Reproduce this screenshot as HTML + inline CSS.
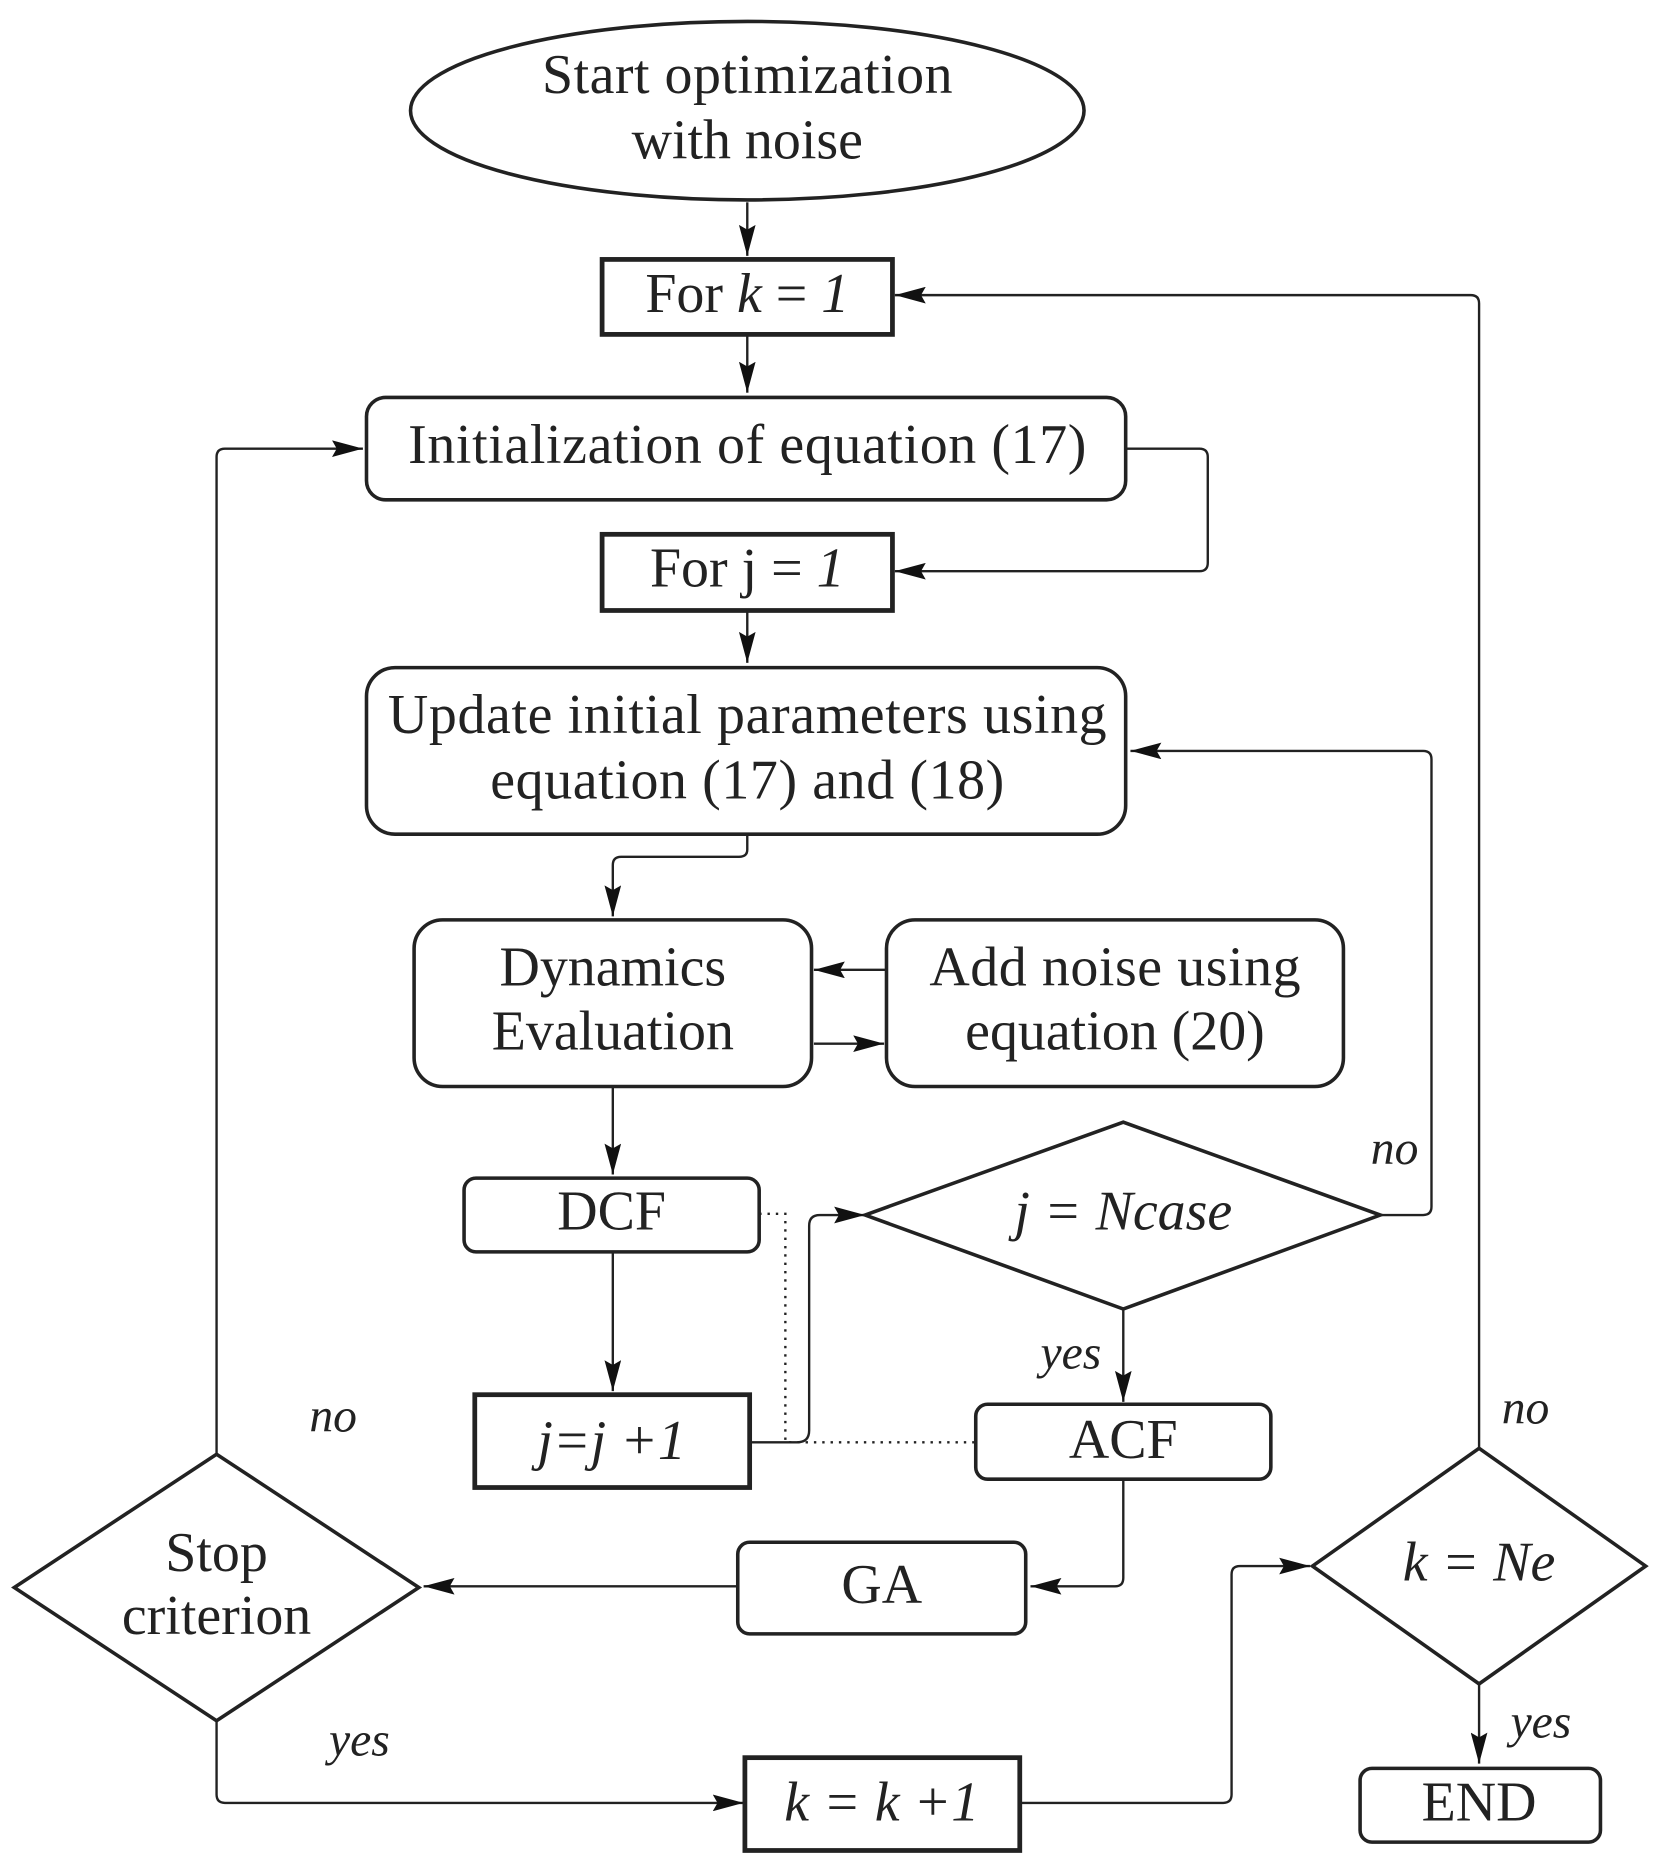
<!DOCTYPE html>
<html><head><meta charset="utf-8"><style>html,body{margin:0;padding:0;background:#fff}svg{display:block}</style></head>
<body>
<svg width="1654" height="1860" viewBox="0 0 1390 1563" preserveAspectRatio="none" xmlns="http://www.w3.org/2000/svg" font-family="Liberation Serif, serif" fill="none">
<defs>
<marker id="b" viewBox="0 0 26 14" markerWidth="26" markerHeight="14" refX="26" refY="7" orient="auto" markerUnits="userSpaceOnUse"><path d="M0,0 L26,7 L0,14 L4,7 Z" fill="#111"/></marker>
</defs>
<g stroke="#222" stroke-width="3">
<ellipse cx="628" cy="93" rx="283" ry="75"/>
<rect x="506" y="218" width="244" height="63" stroke-width="4"/>
<rect x="308" y="334" width="638" height="86" rx="16"/>
<rect x="506" y="449" width="244" height="64" stroke-width="4"/>
<rect x="308" y="561" width="638" height="140" rx="24"/>
<rect x="348" y="773" width="334" height="140" rx="24"/>
<rect x="745" y="773" width="384" height="140" rx="24"/>
<rect x="390" y="990" width="248" height="62" rx="10"/>
<rect x="399" y="1172" width="231" height="78" stroke-width="4"/>
<polygon points="727,1021 944,943 1160,1021 944,1100"/>
<rect x="820" y="1180" width="248" height="63" rx="10"/>
<rect x="620" y="1296" width="242" height="77" rx="10"/>
<polygon points="12,1334 182,1222 352,1334 182,1446"/>
<rect x="626" y="1477" width="231" height="78" stroke-width="4"/>
<polygon points="1103,1316 1243,1217 1383,1316 1243,1415"/>
<rect x="1143" y="1486" width="202" height="62" rx="10"/>
</g>
<g stroke="#222" stroke-width="2" marker-end="url(#b)">
<path d="M628,170 V215"/>
<path d="M628,281 V330"/>
<path d="M946,377 H1008 Q1015,377 1015,384 V473 Q1015,480 1008,480 H752"/>
<path d="M628,513 V557"/>
<path d="M628,701 V714 Q628,720 621,720 H522 Q515,720 515,727 V770"/>
<path d="M745,815 H684"/>
<path d="M684,877 H743"/>
<path d="M515,913 V987"/>
<path d="M515,1052 V1169"/>
<path d="M630,1212 H670 Q680,1212 680,1202 V1030 Q680,1021 689,1021 H727"/>
<path d="M1160,1021 H1196 Q1203,1021 1203,1014 V638 Q1203,631 1196,631 H950"/>
<path d="M944,1100 V1178"/>
<path d="M944,1243 V1326 Q944,1333 937,1333 H866"/>
<path d="M620,1333 H356"/>
<path d="M182,1222 V384 Q182,377 189,377 H305"/>
<path d="M182,1446 V1508 Q182,1515 189,1515 H625"/>
<path d="M857,1515 H1028 Q1035,1515 1035,1508 V1323 Q1035,1316 1042,1316 H1101"/>
<path d="M1243,1217 V255 Q1243,248 1236,248 H752"/>
<path d="M1243,1415 V1482"/>
</g>
<path d="M638,1020 H660 V1212 H820" stroke="#222" stroke-width="2" stroke-dasharray="2,5"/>
<g fill="#222" font-size="47" text-anchor="middle">
<text x="628" y="78" textLength="345">Start optimization</text>
<text x="628" y="133">with noise</text>
<text x="628" y="262">For <tspan font-style="italic">k</tspan> = <tspan font-style="italic">1</tspan></text>
<text x="628" y="389" textLength="570">Initialization of equation (17)</text>
<text x="628" y="493">For j = <tspan font-style="italic">1</tspan></text>
<text x="628" y="616" textLength="604">Update initial parameters using</text>
<text x="628" y="671" textLength="432">equation (17) and (18)</text>
<text x="515" y="828">Dynamics</text>
<text x="515" y="882">Evaluation</text>
<text x="937" y="828" textLength="312">Add noise using</text>
<text x="937" y="882">equation (20)</text>
<text x="514" y="1033">DCF</text>
<text x="514" y="1226" font-style="italic">j=j +1</text>
<text x="944" y="1033" font-style="italic">j = Ncase</text>
<text x="944" y="1225">ACF</text>
<text x="741" y="1347">GA</text>
<text x="182" y="1320">Stop</text>
<text x="182" y="1373">criterion</text>
<text x="741" y="1530" font-style="italic">k = k +1</text>
<text x="1243" y="1328" font-style="italic">k = Ne</text>
<text x="1243" y="1530">END</text>
<g font-style="italic" font-size="40">
<text x="1172" y="978">no</text>
<text x="900" y="1150">yes</text>
<text x="280" y="1203">no</text>
<text x="302" y="1475">yes</text>
<text x="1282" y="1196">no</text>
<text x="1295" y="1460">yes</text>
</g>
</g>
</svg>
</body></html>
